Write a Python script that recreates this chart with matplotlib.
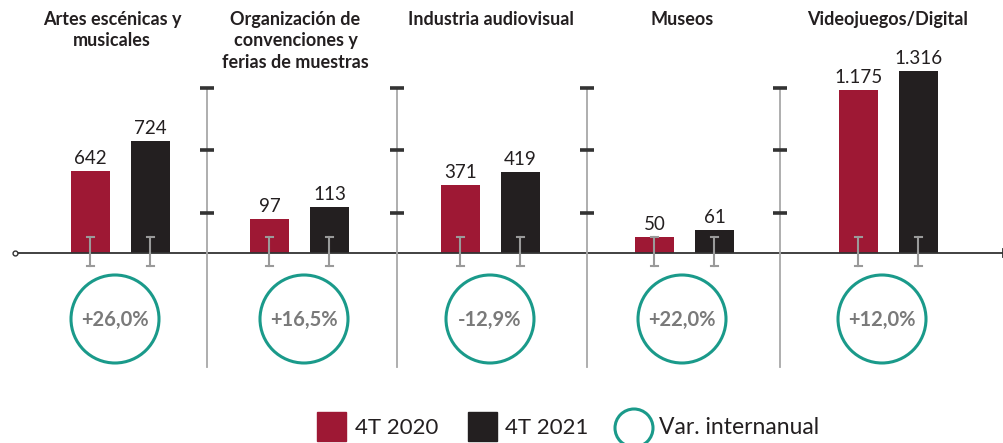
import matplotlib.pyplot as plt
from matplotlib.patches import Circle, Rectangle

# data
sectores = ['Artes escénicas y\nmusicales',
            'Organización de\nconvenciones y\nferias de muestras',
            'Industria audiovisual',
            'Museos',
            'Videojuegos/Digital']
valores_2020 = [642, 97, 371, 50, 1175]
valores_2021 = [724, 113, 419, 61, 1316]
etiquetas_2020 = ['642', '97', '371', '50', '1.175']
etiquetas_2021 = ['724', '113', '419', '61', '1.316']
variacion = ['+26,0%', '+16,5%', '-12,9%', '+22,0%', '+12,0%']
serie_labels = ['4T 2020', '4T 2021', 'Var. internanual']

# each panel has its own (truncated) scale in the original
escala_min = [418, 52, 120, 25, 0]
escala_max = [964, 317, 858, 338, 1446]

ROJO = '#9e1834'
NEGRO = '#231f20'
VERDE = '#1a9a8a'
GRIS = '#7a7a7a'

plt.rcParams['font.family'] = ['Lato', 'DejaVu Sans']

W, H = 1004, 443
fig = plt.figure(figsize=(W / 100, H / 100), dpi=100)

# overlay in pixel coords (y down)
ov = fig.add_axes([0, 0, 1, 1])
ov.set_xlim(0, W)
ov.set_ylim(H, 0)
ov.axis('off')
ov.set_zorder(10)
ov.patch.set_visible(False)

centros = [120.5, 299.5, 490.5, 684.5, 888.5]
centros_circ = [115, 304, 490, 682, 882]
titulo_x = [112, 295.5, 491, 682, 888]
base_y = 253
sep_x = [207, 397, 587, 780]

# baseline
ov.plot([15, 1003], [base_y, base_y], color='#333333', lw=1.3, zorder=1)
ov.plot([15], [base_y], marker='o', ms=3.5, mfc='white', mec='#333333', mew=1)
ov.plot([1003, 1003], [base_y - 4, base_y + 4], color='#333333', lw=1.3)

# separators with ticks
for x in sep_x:
    ov.plot([x, x], [88, 367], color='#a8a8a8', lw=1.3, zorder=1)
    for ty in [88, 150, 213]:
        ov.plot([x - 7, x + 7], [ty, ty], color='#333333', lw=2.6,
                solid_capstyle='butt', zorder=2)

for i in range(5):
    cx = centros[i]
    ax = fig.add_axes([(cx - 95) / W, (H - base_y) / H, 190 / W, 200 / H])
    ax.set_xlim(-95 / 60, 95 / 60)
    ax.set_ylim(escala_min[i], escala_max[i])
    ax.axis('off')
    ax.bar(-0.5, valores_2020[i], width=0.65, color=ROJO)
    ax.bar(0.5, valores_2021[i], width=0.65, color=NEGRO)
    ax.annotate(etiquetas_2020[i], (-0.5, valores_2020[i]), xytext=(0, 3),
                textcoords='offset points', ha='center', va='bottom',
                fontsize=13.5, color=NEGRO, annotation_clip=False)
    ax.annotate(etiquetas_2021[i], (0.5, valores_2021[i]), xytext=(0, 3),
                textcoords='offset points', ha='center', va='bottom',
                fontsize=13.5, color=NEGRO, annotation_clip=False)

    # gray I markers
    for bx in [cx - 30, cx + 30]:
        ov.plot([bx, bx], [237, 266], color='#9a9a9a', lw=1.5, zorder=3)
        for yy in [237, 266]:
            ov.plot([bx - 3.5, bx + 3.5], [yy, yy], color='#9a9a9a', lw=1.5, zorder=3)

    ov.text(titulo_x[i], 11, sectores[i], ha='center', va='top', fontsize=13,
            fontweight='bold', color=NEGRO, linespacing=1.32)

    ov.add_patch(Circle((centros_circ[i], 319), 44, fill=False, ec=VERDE, lw=2.2))
    ov.text(centros_circ[i], 320, variacion[i], ha='center', va='center',
            fontsize=14.5, fontweight='bold', color=GRIS)

# legend
ov.add_patch(Rectangle((317, 412), 29, 29, color=ROJO))
ov.text(355, 428, serie_labels[0], ha='left', va='center', fontsize=16, color=NEGRO)
ov.add_patch(Rectangle((468, 412), 29, 29, color=NEGRO))
ov.text(505, 428, serie_labels[1], ha='left', va='center', fontsize=16, color=NEGRO)
ov.add_patch(Circle((634, 428), 19, fill=False, ec=VERDE, lw=2.2))
ov.text(659, 428, serie_labels[2], ha='left', va='center', fontsize=16.5, color=NEGRO)

fig.savefig('out.png', dpi=100)
